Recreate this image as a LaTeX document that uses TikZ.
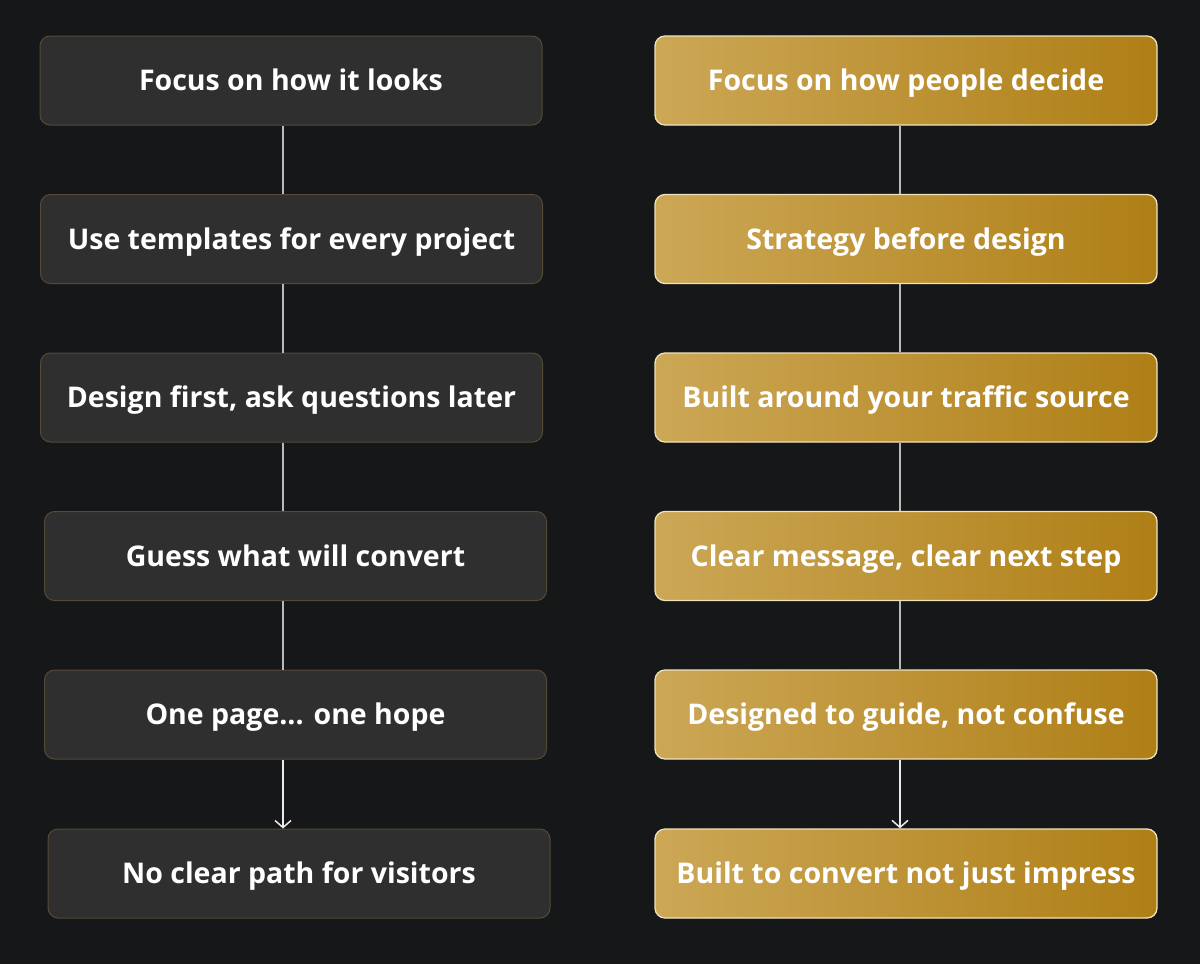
\documentclass[tikz,border=0pt]{standalone}
\usepackage{fontspec}
\setmainfont{Open Sans}
\usetikzlibrary{arrows.meta}

\definecolor{bgDark}{RGB}{22,23,25}
\definecolor{boxGray}{RGB}{47,47,47}
\definecolor{boxEdge}{RGB}{84,74,54}
\definecolor{goldLight}{RGB}{204,167,86}
\definecolor{goldMid}{RGB}{182,134,30}
\definecolor{goldDark}{RGB}{175,127,22}
\definecolor{goldEdge}{RGB}{240,226,186}
\definecolor{linkGray}{RGB}{185,185,185}

\begin{document}
\begin{tikzpicture}[x=1pt,y=-1pt,
		oldway/.style={draw=boxEdge,line width=1pt,fill=boxGray,rounded corners=10pt,
			minimum width=502pt,minimum height=89pt,text height=24pt,text depth=4pt,
			text=white,font=\fontsize{28.5}{34}\selectfont\bfseries},
		newway/.style={draw=goldEdge,line width=1.3pt,rounded corners=10pt,
			left color=goldLight,middle color=goldMid,right color=goldDark,
			minimum width=502pt,minimum height=89pt,text height=24pt,text depth=4pt,
			text=white,font=\fontsize{28.5}{34}\selectfont\bfseries},
		link/.style={draw=linkGray,line width=1.5pt},
		finallink/.style={draw=white!92!black,line width=1.5pt,-{Straight Barb[length=7pt,width=16pt,line width=1.5pt]}}
		]
	\fill[bgDark] (0,0) rectangle (1200,964);
	\useasboundingbox (0,0) rectangle (1200,964);
	
	% Linke Spalte
	% ----------------------
	\node[oldway] (Looks) at (291,80.5) {Focus on how it looks};
	\node[oldway] (Templates) at (291.5,239) {Use templates for every project};
	\node[oldway] (DesignFirst) at (291.5,397.5) {Design first, ask questions later};
	\node[oldway] (Guess) at (295.5,556) {Guess what will convert};
	\node[oldway] (OnePage) at (295.5,714.5) {One page... one hope};
	\node[oldway] (NoPath) at (299,873.5) {No clear path for visitors};
	
	% Rechte Spalte
	% ----------------------
	\node[newway] (Decide) at (906,80.5) {Focus on how people decide};
	\node[newway] (Strategy) at (906,239) {Strategy before design};
	\node[newway] (Traffic) at (906,397.5) {Built around your traffic source};
	\node[newway] (Message) at (906,556) {Clear message, clear next step};
	\node[newway] (Guide) at (906,714.5) {Designed to guide, not confuse};
	\node[newway] (Convert) at (906,873.5) {Built to convert not just impress};
	
	% Verbindungen
	\coordinate (leftLine) at (283,0);
	\coordinate (rightLine) at (900,0);
	\draw[link] (Looks.south -| leftLine) -- (Templates.north -| leftLine);
	\draw[link] (Templates.south -| leftLine) -- (DesignFirst.north -| leftLine);
	\draw[link] (DesignFirst.south -| leftLine) -- (Guess.north -| leftLine);
	\draw[link] (Guess.south -| leftLine) -- (OnePage.north -| leftLine);
	\draw[finallink] (OnePage.south -| leftLine) -- (NoPath.north -| leftLine);
	
	\draw[link] (Decide.south -| rightLine) -- (Strategy.north -| rightLine);
	\draw[link] (Strategy.south -| rightLine) -- (Traffic.north -| rightLine);
	\draw[link] (Traffic.south -| rightLine) -- (Message.north -| rightLine);
	\draw[link] (Message.south -| rightLine) -- (Guide.north -| rightLine);
	\draw[finallink] (Guide.south -| rightLine) -- (Convert.north -| rightLine);
	
\end{tikzpicture}
\end{document}
